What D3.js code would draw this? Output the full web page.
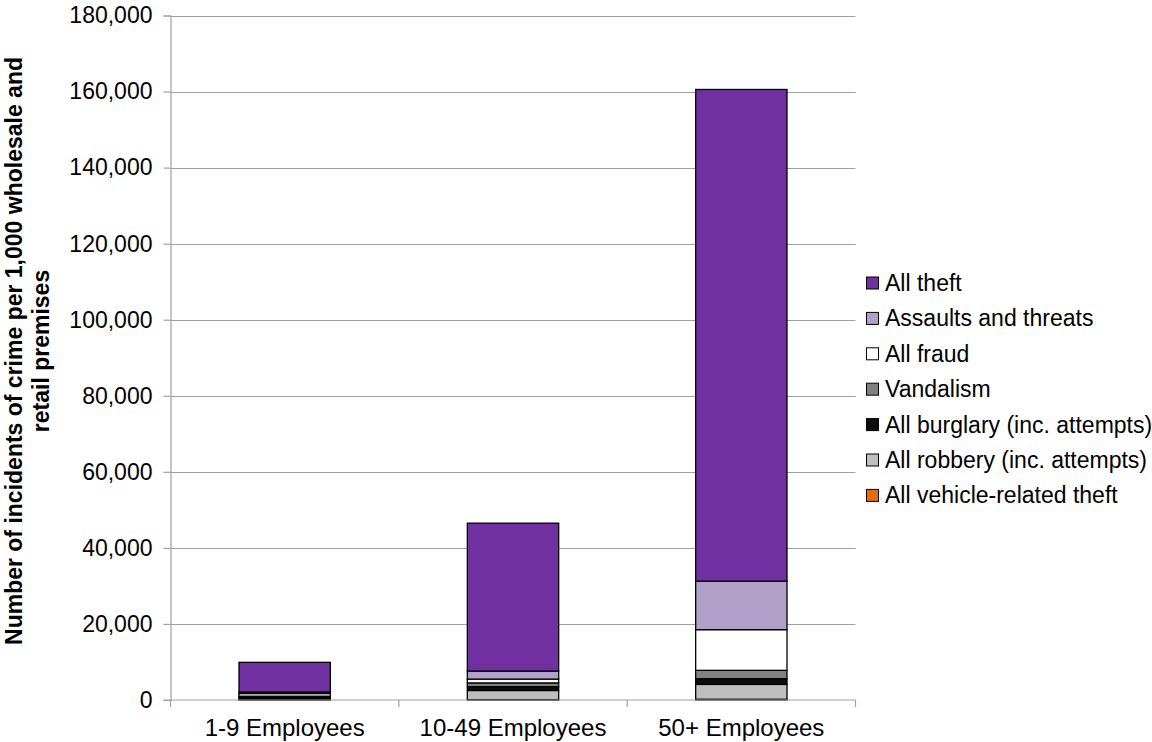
<!DOCTYPE html>
<html>
<head>
<meta charset="utf-8">
<script src="https://cdn.jsdelivr.net/npm/d3@7"></script>
<style>
  html, body { margin: 0; padding: 0; background: #fff; }
  svg { display: block; font-family: "Liberation Sans", Arial, sans-serif; }
</style>
</head>
<body>
<svg id="chart" width="1152" height="742"></svg>
<script>
const categories = ["1-9 Employees", "10-49 Employees", "50+ Employees"];
// stacking order bottom -> top
const seriesNames = ["All vehicle-related theft", "All robbery (inc. attempts)", "All burglary (inc. attempts)", "Vandalism", "All fraud", "Assaults and threats", "All theft"];
const vehicleTheft = [100, 100, 200];
const robbery      = [300, 2400, 3900];
const burglary     = [350, 1000, 1500];
const vandalism    = [250, 1000, 2200];
const fraud        = [700, 1000, 10700];
const assaults     = [400, 2100, 12750];
const theft        = [7800, 38900, 129300];
const seriesColors = ["#E46C0A", "#BFBFBF", "#0D0D0D", "#808080", "#FFFFFF", "#B1A0C7", "#7030A0"];
const yTicks = [0, 20000, 40000, 60000, 80000, 100000, 120000, 140000, 160000, 180000];
const yTitle = ["Number of incidents of crime per 1,000 wholesale and", "retail premises"];

const seriesValues = [vehicleTheft, robbery, burglary, vandalism, fraud, assaults, theft];
const rows = categories.map((c, i) => {
  const r = { cat: c };
  seriesNames.forEach((s, j) => r[s] = seriesValues[j][i]);
  return r;
});
const stacked = d3.stack().keys(seriesNames)(rows);

const svg = d3.select("#chart");
const mLeft = 170.5, mRight = 855.5, mTop = 15.5, mBottom = 700;

const x = d3.scaleBand().domain(categories).range([mLeft, mRight]).paddingInner(0.6).paddingOuter(0.3);
const xb = d3.scaleBand().domain(categories).range([mLeft, mRight]);
const y = d3.scaleLinear().domain([0, 180000]).range([mBottom, mTop]);

// gridlines
svg.append("g").selectAll("line").data(yTicks.filter(d => d > 0)).join("line")
  .attr("x1", mLeft).attr("x2", mRight)
  .attr("y1", d => Math.round(y(d)) + 0.5).attr("y2", d => Math.round(y(d)) + 0.5)
  .attr("stroke", "#A0A0A0").attr("stroke-width", 1.2);

// y axis
const yAxis = svg.append("g").attr("transform", `translate(${mLeft},0)`)
  .call(d3.axisLeft(y).tickValues(yTicks).tickSize(7).tickPadding(11).tickFormat(d3.format(",")));
yAxis.select(".domain").attr("stroke", "#A0A0A0").attr("stroke-width", 1.2);
yAxis.selectAll(".tick line").attr("stroke", "#A0A0A0").attr("stroke-width", 1.2);
yAxis.selectAll(".tick text").attr("font-size", 23).attr("fill", "#000")
  .attr("font-family", "Liberation Sans, Arial, sans-serif");

// bars
const g = svg.append("g");
stacked.forEach((layer, j) => {
  g.selectAll(null).data(layer).join("rect")
    .attr("x", d => x(d.data.cat))
    .attr("width", x.bandwidth())
    .attr("y", d => y(d[1]))
    .attr("height", d => Math.max(0, y(d[0]) - y(d[1])))
    .attr("fill", seriesColors[j])
    .attr("stroke", "#000").attr("stroke-width", 1.3);
});

// x axis
const xAxisG = svg.append("g").attr("transform", `translate(0,${mBottom})`);
xAxisG.append("line").attr("x1", mLeft - 7).attr("x2", mRight).attr("y1", 0).attr("y2", 0)
  .attr("stroke", "#A0A0A0").attr("stroke-width", 1.2);
const bounds = categories.map(c => xb(c)).concat([xb(categories[categories.length - 1]) + xb.bandwidth()]);
xAxisG.selectAll(".xt").data(bounds).join("line").attr("class", "xt")
  .attr("x1", d => d).attr("x2", d => d).attr("y1", 0).attr("y2", 7)
  .attr("stroke", "#A0A0A0").attr("stroke-width", 1.2);
xAxisG.selectAll(".xl").data(categories).join("text").attr("class", "xl")
  .attr("x", d => xb(d) + xb.bandwidth() / 2).attr("y", 36)
  .attr("text-anchor", "middle").attr("font-size", 24).attr("fill", "#000")
  .text(d => d);

// y title
const yt = svg.append("text").attr("transform", `translate(0,351) rotate(-90)`)
  .attr("text-anchor", "middle").attr("font-size", 23).attr("font-weight", "bold").attr("fill", "#000");
yt.selectAll("tspan").data(yTitle).join("tspan")
  .attr("x", 0).attr("y", (d, i) => 21.5 + i * 27).text(d => d);

// legend (top -> bottom reversed order)
const legendItems = seriesNames.map((s, j) => ({ name: s, color: seriesColors[j] })).reverse();
const lg = svg.append("g").attr("transform", "translate(866,283)");
const li = lg.selectAll("g").data(legendItems).join("g")
  .attr("transform", (d, i) => `translate(0,${i * 35.4})`);
li.append("rect").attr("x", 0.5).attr("y", -6).attr("width", 12).attr("height", 12)
  .attr("fill", d => d.color).attr("stroke", "#000").attr("stroke-width", 1);
li.append("text").attr("x", 19).attr("y", 0).attr("dy", "0.35em")
  .attr("font-size", 23).attr("fill", "#000").text(d => d.name);
</script>
</body>
</html>
